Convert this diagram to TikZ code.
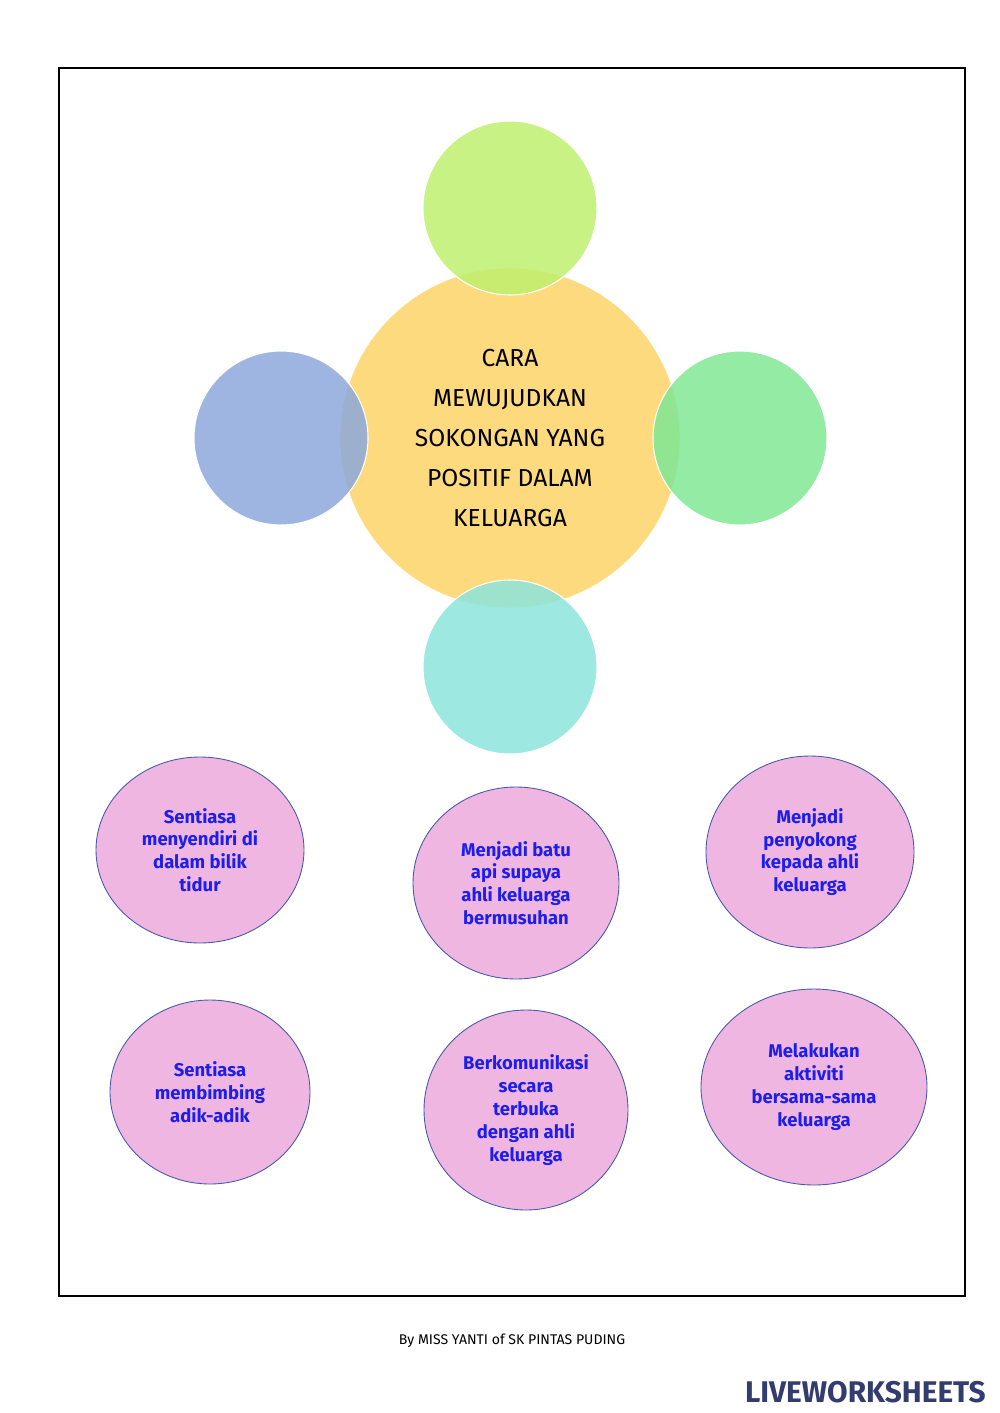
\documentclass[tikz,border=0pt]{standalone}
\usepackage{fontspec}
\setmainfont{Fira Sans}
\usetikzlibrary{shapes.geometric}
\definecolor{centrefill}{RGB}{253,218,125}
\definecolor{topfill}{RGB}{190,240,110}
\definecolor{leftfill}{RGB}{140,168,218}
\definecolor{rightfill}{RGB}{128,232,148}
\definecolor{bottomfill}{RGB}{140,228,220}
\definecolor{pinkfill}{RGB}{240,182,226}
\definecolor{pinkline}{RGB}{70,90,170}
\definecolor{answertext}{RGB}{30,30,235}
\definecolor{logoblue}{RGB}{50,60,110}
\begin{document}
\begin{tikzpicture}[x=0.02cm, y=-0.02cm,
    petal/.style={circle, minimum size=174*0.02cm, inner sep=0pt, draw=white, line width=0.6, fill opacity=0.85},
    answer/.style={ellipse, draw=pinkline, line width=0.5, fill=pinkfill, text=answertext,
        align=center, font=\bfseries\fontsize{10.5}{13}\selectfont, inner sep=0pt},
    ]
        % Page:
        \useasboundingbox (0, 0) rectangle (1000, 1413);
        \draw[line width=1.2, color=black] (59, 68) rectangle (965, 1296);

        % Central circle:
        \node[circle, minimum size=340*0.02cm, inner sep=0pt, fill=centrefill, draw=white,
              align=center, font=\fontsize{14}{22.7}\selectfont] (centre) at (510, 438)
              {CARA\\MEWUJUDKAN\\SOKONGAN YANG\\POSITIF DALAM\\KELUARGA};

        % Petals:
        \node[petal, fill=topfill] (top) at (510, 208) {};
        \node[petal, fill=leftfill] (left) at (281, 438) {};
        \node[petal, fill=rightfill] (right) at (740, 438) {};
        \node[petal, fill=bottomfill] (bottom) at (510, 667) {};

        % Answers:
        \node[answer, minimum width=208*0.02cm, minimum height=186*0.02cm] (a1) at (200, 850)
              {Sentiasa\\menyendiri di\\dalam bilik\\tidur};
        \node[answer, minimum width=206*0.02cm, minimum height=192*0.02cm] (a2) at (516, 883)
              {Menjadi batu\\api supaya\\ahli keluarga\\bermusuhan};
        \node[answer, minimum width=208*0.02cm, minimum height=192*0.02cm] (a3) at (810, 852)
              {Menjadi\\penyokong\\kepada ahli\\keluarga};
        \node[answer, minimum width=200*0.02cm, minimum height=184*0.02cm] (a4) at (210, 1092)
              {Sentiasa\\membimbing\\adik-adik};
        \node[answer, minimum width=204*0.02cm, minimum height=200*0.02cm] (a5) at (526, 1110)
              {Berkomunikasi\\secara\\terbuka\\dengan ahli\\keluarga};
        \node[answer, minimum width=226*0.02cm, minimum height=196*0.02cm] (a6) at (814, 1087)
              {Melakukan\\aktiviti\\bersama-sama\\keluarga};

        % Footer:
        \node[font=\fontsize{8}{10}\selectfont] (credit) at (512, 1341) {By MISS YANTI of SK PINTAS PUDING};
        \node[anchor=east, font=\bfseries\fontsize{17}{20}\selectfont, color=logoblue] (logo) at (992, 1392)
              {LIVEWORKSHEETS};
\end{tikzpicture}
\end{document}
